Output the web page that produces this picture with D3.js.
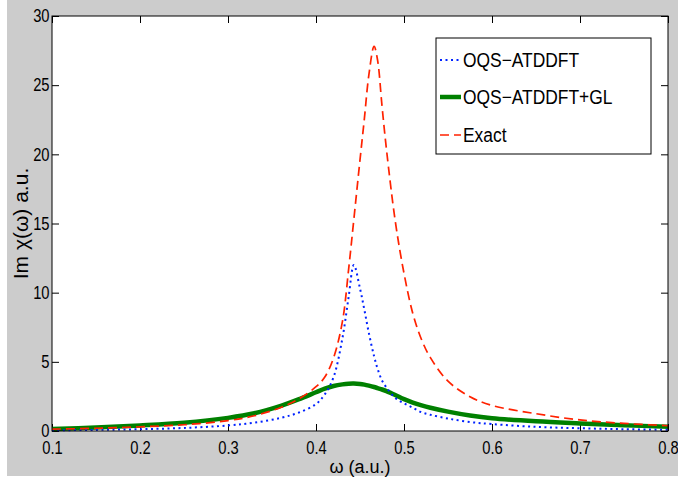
<!DOCTYPE html>
<html>
<head>
<meta charset="utf-8">
<script src="https://cdn.jsdelivr.net/npm/d3@7"></script>
<style>
  html, body { margin: 0; padding: 0; background: #ffffff; }
  svg { display: block; }
  text { font-family: "Liberation Sans", Arial, Helvetica, sans-serif; fill: #000; }
</style>
</head>
<body>
<svg id="chart" width="678" height="483"></svg>
<script>
// ---- data ----
const omega = [0.10,0.15,0.20,0.25,0.30,0.33,0.36,0.38,0.40,0.41,0.42,0.43,0.437,0.443,0.45,0.455,0.46,0.466,0.47,0.475,0.48,0.49,0.50,0.51,0.52,0.53,0.55,0.575,0.60,0.65,0.70,0.75,0.80];
const oqs   = [0.05,0.08,0.13,0.22,0.40,0.60,0.95,1.32,1.95,2.65,3.90,6.70,9.65,12.0,10.3,8.75,7.10,5.40,4.50,3.65,3.15,2.40,2.00,1.68,1.35,1.17,0.90,0.65,0.50,0.30,0.20,0.13,0.09];
const oqsGL = [0.15,0.25,0.40,0.60,0.95,1.28,1.82,2.28,2.80,3.06,3.25,3.37,3.42,3.43,3.40,3.35,3.28,3.18,3.10,3.00,2.88,2.60,2.30,2.05,1.85,1.68,1.40,1.12,0.92,0.70,0.55,0.42,0.30];
const exact = [0.13,0.20,0.30,0.45,0.75,1.10,1.70,2.30,3.20,3.90,5.30,7.90,11.65,15.3,19.6,22.6,25.7,27.8,26.8,23.5,20.4,15.2,11.4,8.50,6.60,5.30,3.60,2.48,1.85,1.25,0.80,0.55,0.38];
const seriesNames = ["OQS\u2212ATDDFT", "OQS\u2212ATDDFT+GL", "Exact"];
const xTicks = [0.1,0.2,0.3,0.4,0.5,0.6,0.7,0.8];
const yTicks = [0,5,10,15,20,25,30];

// ---- layout ----
const svg = d3.select("#chart");
const L = 52, R = 668, T = 16, B = 431;
const x = d3.scaleLinear().domain([0.1, 0.8]).range([L, R]);
const y = d3.scaleLinear().domain([0, 30]).range([B, T]);

// figure background
svg.append("rect").attr("x", 0).attr("y", 0).attr("width", 678).attr("height", 483).attr("fill", "#ffffff");
svg.append("rect").attr("x", 7).attr("y", 0).attr("width", 671).attr("height", 476).attr("fill", "#cccccc");

// plot area
svg.append("rect").attr("x", L).attr("y", T).attr("width", R - L).attr("height", B - T).attr("fill", "#ffffff");

const tickLen = 7;
const sx = 0.82;

// axes
const gB = svg.append("g").attr("transform", `translate(0,${B})`)
  .call(d3.axisBottom(x).tickValues(xTicks).tickSize(-tickLen).tickSizeOuter(0).tickPadding(10).tickFormat(d3.format(".1f")));
const gT = svg.append("g").attr("transform", `translate(0,${T})`)
  .call(d3.axisTop(x).tickValues(xTicks).tickSize(-tickLen).tickSizeOuter(0).tickFormat(""));
const gL = svg.append("g").attr("transform", `translate(${L},0)`)
  .call(d3.axisLeft(y).tickValues(yTicks).tickSize(-tickLen).tickSizeOuter(0).tickPadding(3).tickFormat(d3.format("d")));
const gR = svg.append("g").attr("transform", `translate(${R},0)`)
  .call(d3.axisRight(y).tickValues(yTicks).tickSize(-tickLen).tickSizeOuter(0).tickFormat(""));

[gB, gT, gL, gR].forEach(g => {
  g.select(".domain").remove();
  g.selectAll(".tick line").attr("stroke", "#000").attr("stroke-width", 1);
  g.selectAll(".tick text").attr("font-size", 18).attr("font-family", "Liberation Sans, Arial, sans-serif").attr("fill", "#000");
});
gB.selectAll(".tick text").attr("transform", `scale(${sx},1)`);
gL.selectAll(".tick text").attr("transform", `scale(${sx},1)`);

// curves
const pts = (vals) => omega.map((w, i) => [w, vals[i]]);
const line = d3.line().x(d => x(d[0])).y(d => y(d[1])).curve(d3.curveCatmullRom.alpha(0.5));

const plot = svg.append("g");
plot.append("path").datum(pts(oqsGL)).attr("d", line)
  .attr("fill", "none").attr("stroke", "#008000").attr("stroke-width", 4.5);
plot.append("path").datum(pts(oqs)).attr("d", line)
  .attr("fill", "none").attr("stroke", "#0022ff").attr("stroke-width", 2).attr("stroke-dasharray", "2,3.5");
plot.append("path").datum(pts(exact)).attr("d", line)
  .attr("fill", "none").attr("stroke", "#ff2200").attr("stroke-width", 1.7).attr("stroke-dasharray", "9,5");

// axes box
svg.append("rect").attr("x", L).attr("y", T).attr("width", R - L).attr("height", B - T)
  .attr("fill", "none").attr("stroke", "#000").attr("stroke-width", 1);

// axis labels
svg.append("text").attr("x", x(0.45)).attr("y", 473).attr("text-anchor", "middle")
  .attr("font-size", 18).text("\u03c9 (a.u.)");
svg.append("text").attr("transform", `translate(28,${(T + B) / 2}) rotate(-90)`)
  .attr("text-anchor", "middle").attr("font-size", 21).text("Im \u03c7(\u03c9) a.u.");

// legend
const lg = svg.append("g");
lg.append("rect").attr("x", 436).attr("y", 38).attr("width", 215).attr("height", 116)
  .attr("fill", "#ffffff").attr("stroke", "#000").attr("stroke-width", 1);
const legendRows = [
  { name: seriesNames[0], color: "#0022ff", width: 2, dash: "2,3.5", yy: 60 },
  { name: seriesNames[1], color: "#008000", width: 4.5, dash: null, yy: 97 },
  { name: seriesNames[2], color: "#ff2200", width: 1.7, dash: "9,5", yy: 135 }
];
legendRows.forEach(r => {
  const ln = lg.append("line").attr("x1", 440).attr("x2", 461).attr("y1", r.yy).attr("y2", r.yy)
    .attr("stroke", r.color).attr("stroke-width", r.width);
  if (r.dash) ln.attr("stroke-dasharray", r.dash);
  lg.append("text").attr("transform", `translate(463,${r.yy + 7}) scale(0.87,1)`)
    .attr("font-size", 20).text(r.name);
});
</script>
</body>
</html>
